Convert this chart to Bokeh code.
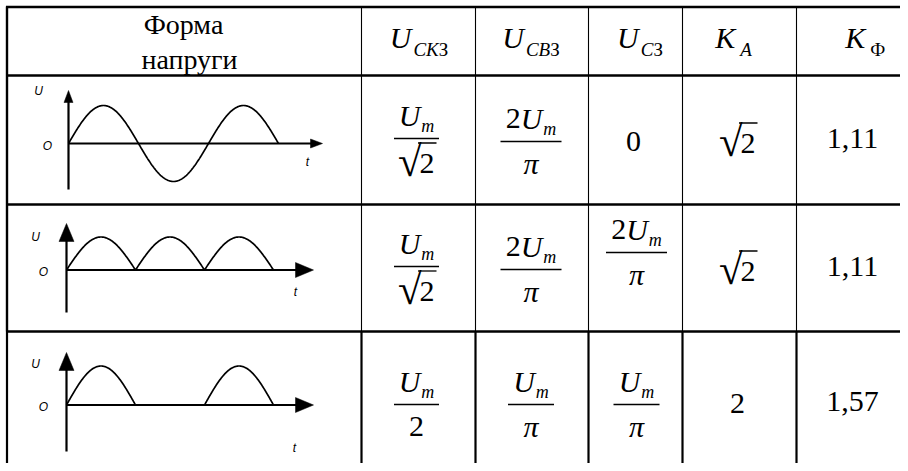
import numpy as np
from bokeh.plotting import figure
from bokeh.models import Range1d
from bokeh.embed import file_html
from bokeh.resources import INLINE
from bokeh.core.properties import value

# ---------------- data ----------------
header_form = ["Форма", "напруги"]
header_main = ["U", "U", "U", "K", "K"]
header_sub = ["СК", "СВ", "С", "А", ""]
header_tail = ["З", "З", "З", "", "Ф"]

waveforms = ["sine", "full-wave", "half-wave"]
rms_coef = ["", "", ""]
rms_den = ["√2", "√2", "2"]
avg_coef = ["2", "2", ""]
avg_den = ["π", "π", "π"]
mean_coef = [None, "2", ""]        # None -> plain zero
mean_den = ["0", "π", "π"]
ka_vals = ["√2", "√2", "2"]
kf_vals = ["1,11", "1,11", "1,57"]

# ---------------- figure ----------------
p = figure(width=900, height=463, x_range=Range1d(0, 900), y_range=Range1d(463, 0),
           output_backend="svg", toolbar_location=None, min_border=0,
           x_axis_type=None, y_axis_type=None, outline_line_color=None,
           background_fill_color="white", border_fill_color="white")
p.grid.visible = False

SERIF = "Liberation Serif"
SANS = "Liberation Sans"
REG = {'0': .5, '1': .5, '2': .5, '3': .5, '5': .5, '7': .5, ',': .25, 'З': .45, 'Ф': .72, 'π': .55}
ITA = {'U': .722, 'K': .667, 'm': .722, 'С': .667, 'К': .667, 'В': .611, 'А': .611, 'π': .55}
BASE_FIX = 0.35   # baseline correction (fraction of font size)


def w(s, size, italic):
    tab = ITA if italic else REG
    return sum(tab.get(c, .5) for c in s) * size


def put(x, y, s, size, italic=False, align="left", font=SERIF):
    if not s:
        return
    p.text(x=[x], y=[y - BASE_FIX * size], text=[s], text_font=value(font),
           text_font_size=f"{size}px",
           text_font_style="italic" if italic else "normal", text_align=align,
           text_baseline="alphabetic", text_color="black")


def composite(xc, yb, coef, main, sub, tail, size, subsize, dsub, gap):
    parts = [(coef, False, size, 0, 0), (main, True, size, 0, gap),
             (sub, True, subsize, dsub, 0), (tail, False, subsize, dsub, 0)]
    total = sum(w(s, sz, it) + g for s, it, sz, d, g in parts)
    x = xc - total / 2
    for s, it, sz, d, g in parts:
        put(x, yb + d, s, sz, it)
        x += w(s, sz, it) + g


def sqrt2(xc, yb, size=30):
    total = 21 + w("2", size, False)
    x2 = xc - total / 2 + 21
    put(x2 + 2, yb + 3, "√", 43, False, align="right")
    put(x2, yb, "2", size)
    top = yb - 30.5
    p.segment(x0=[x2 - 1.5], y0=[top], x1=[x2 + w("2", size, False) + 2], y1=[top],
              line_color="black", line_width=1.3)


def denom(xc, yb, s, size=30):
    if s == "√2":
        sqrt2(xc, yb, size)
    else:
        put(xc, yb, s, size, italic=(s == "π"), align="center")


def frac(xc, ybar, coef, den, barlen):
    p.segment(x0=[xc - barlen / 2], y0=[ybar], x1=[xc + barlen / 2], y1=[ybar],
              line_color="black", line_width=1.4)
    composite(xc, ybar - 12.5, coef, "U", "m", "", 30, 18, 6, 1)
    denom(xc, ybar + (35 if den == "√2" else 32), den)


# ---------------- table grid ----------------
row_lines = [6.5, 75, 204, 331]
col_lines = [6.5, 361, 475, 588, 682, 796]
p.segment(x0=[5.5] * 4, y0=row_lines, x1=[905] * 4, y1=row_lines,
          line_color="black", line_width=2.6)
for i, cx in enumerate(col_lines):
    thick = 2.4 if i == 0 else 1.1
    p.segment(x0=[cx], y0=[6], x1=[cx], y1=[331], line_color="black", line_width=thick)
    p.segment(x0=[cx], y0=[331], x1=[cx], y1=[475], line_color="black", line_width=2.2)

# ---------------- header ----------------
put(183, 34, header_form[0], 28, align="center")
put(189, 68.5, header_form[1], 28, align="center")
hdr_x = [418, 530, 639, 733, 864]
for i in range(5):
    gap = 2 if header_main[i] == "U" else 5
    composite(hdr_x[i], 47.5, "", header_main[i], header_sub[i], header_tail[i], 30, 19, 8, gap)

# ---------------- body ----------------
rms_bar = [138, 266, 404]
avg_bar = [141, 269, 404]
mean_y = [151, 252, 404]
ka_y = [153, 281, 413]
kf_y = [148, 276, 411]
for r in range(3):
    frac(416, rms_bar[r], rms_coef[r], rms_den[r], 45)
    frac(530.5, avg_bar[r], avg_coef[r], avg_den[r], 61 if avg_coef[r] else 46)
    if mean_coef[r] is None:
        put(633, mean_y[r], mean_den[r], 30, align="center")
    else:
        frac(636, mean_y[r], mean_coef[r], mean_den[r], 61 if mean_coef[r] else 46)
    if ka_vals[r] == "√2":
        sqrt2(737, ka_y[r])
    else:
        put(737, ka_y[r], ka_vals[r], 30, align="center")
    put(852, kf_y[r], kf_vals[r], 30, align="center")

# ---------------- waveforms ----------------
wave_geom = [  # ox, oy, half-period px, amplitude, y_top, y_bot, x_tip, head_len, head_half
    (68, 143, 70, 38, 90, 189, 322, 12, 4.5),
    (66, 269.5, 69, 33, 223, 312, 313, 18, 7.5),
    (66, 404.5, 69, 39, 352, 451, 313, 18, 7.5),
]
lbl_pos = [((38, 90), (47, 145), (307, 161)),
           ((35, 236), (43, 271), (295, 291)),
           ((35, 363), (43, 406), (294, 447))]
for r, kind in enumerate(waveforms):
    ox, oy, hp, amp, ytop, ybot, xtip, hl, hh = wave_geom[r]
    t = np.linspace(0, 3 * np.pi, 400)
    s = np.sin(t)
    if kind == "full-wave":
        s = np.abs(s)
    elif kind == "half-wave":
        s = np.where(s > 0, s, 0)
    p.line(ox + t / np.pi * hp, oy - amp * s, line_color="black", line_width=1.7)
    p.segment(x0=[ox, ox], y0=[oy, ybot], x1=[xtip - hl + 1, ox], y1=[oy, ytop + hl - 1],
              line_color="black", line_width=2.2)
    p.patch([xtip, xtip - hl, xtip - hl], [oy, oy - hh, oy + hh], color="black", line_width=0.5)
    p.patch([ox, ox - hh, ox + hh], [ytop, ytop + hl, ytop + hl], color="black", line_width=0.5)
    for (lx, ly), s_ in zip(lbl_pos[r], ["U", "O", "t"]):
        p.text(x=[lx], y=[ly], text=[s_], text_font=value(SANS), text_font_size="12px",
               text_font_style="italic", text_align="center", text_baseline="middle",
               text_color="black")

open("out.html", "w").write(file_html(p, INLINE))
